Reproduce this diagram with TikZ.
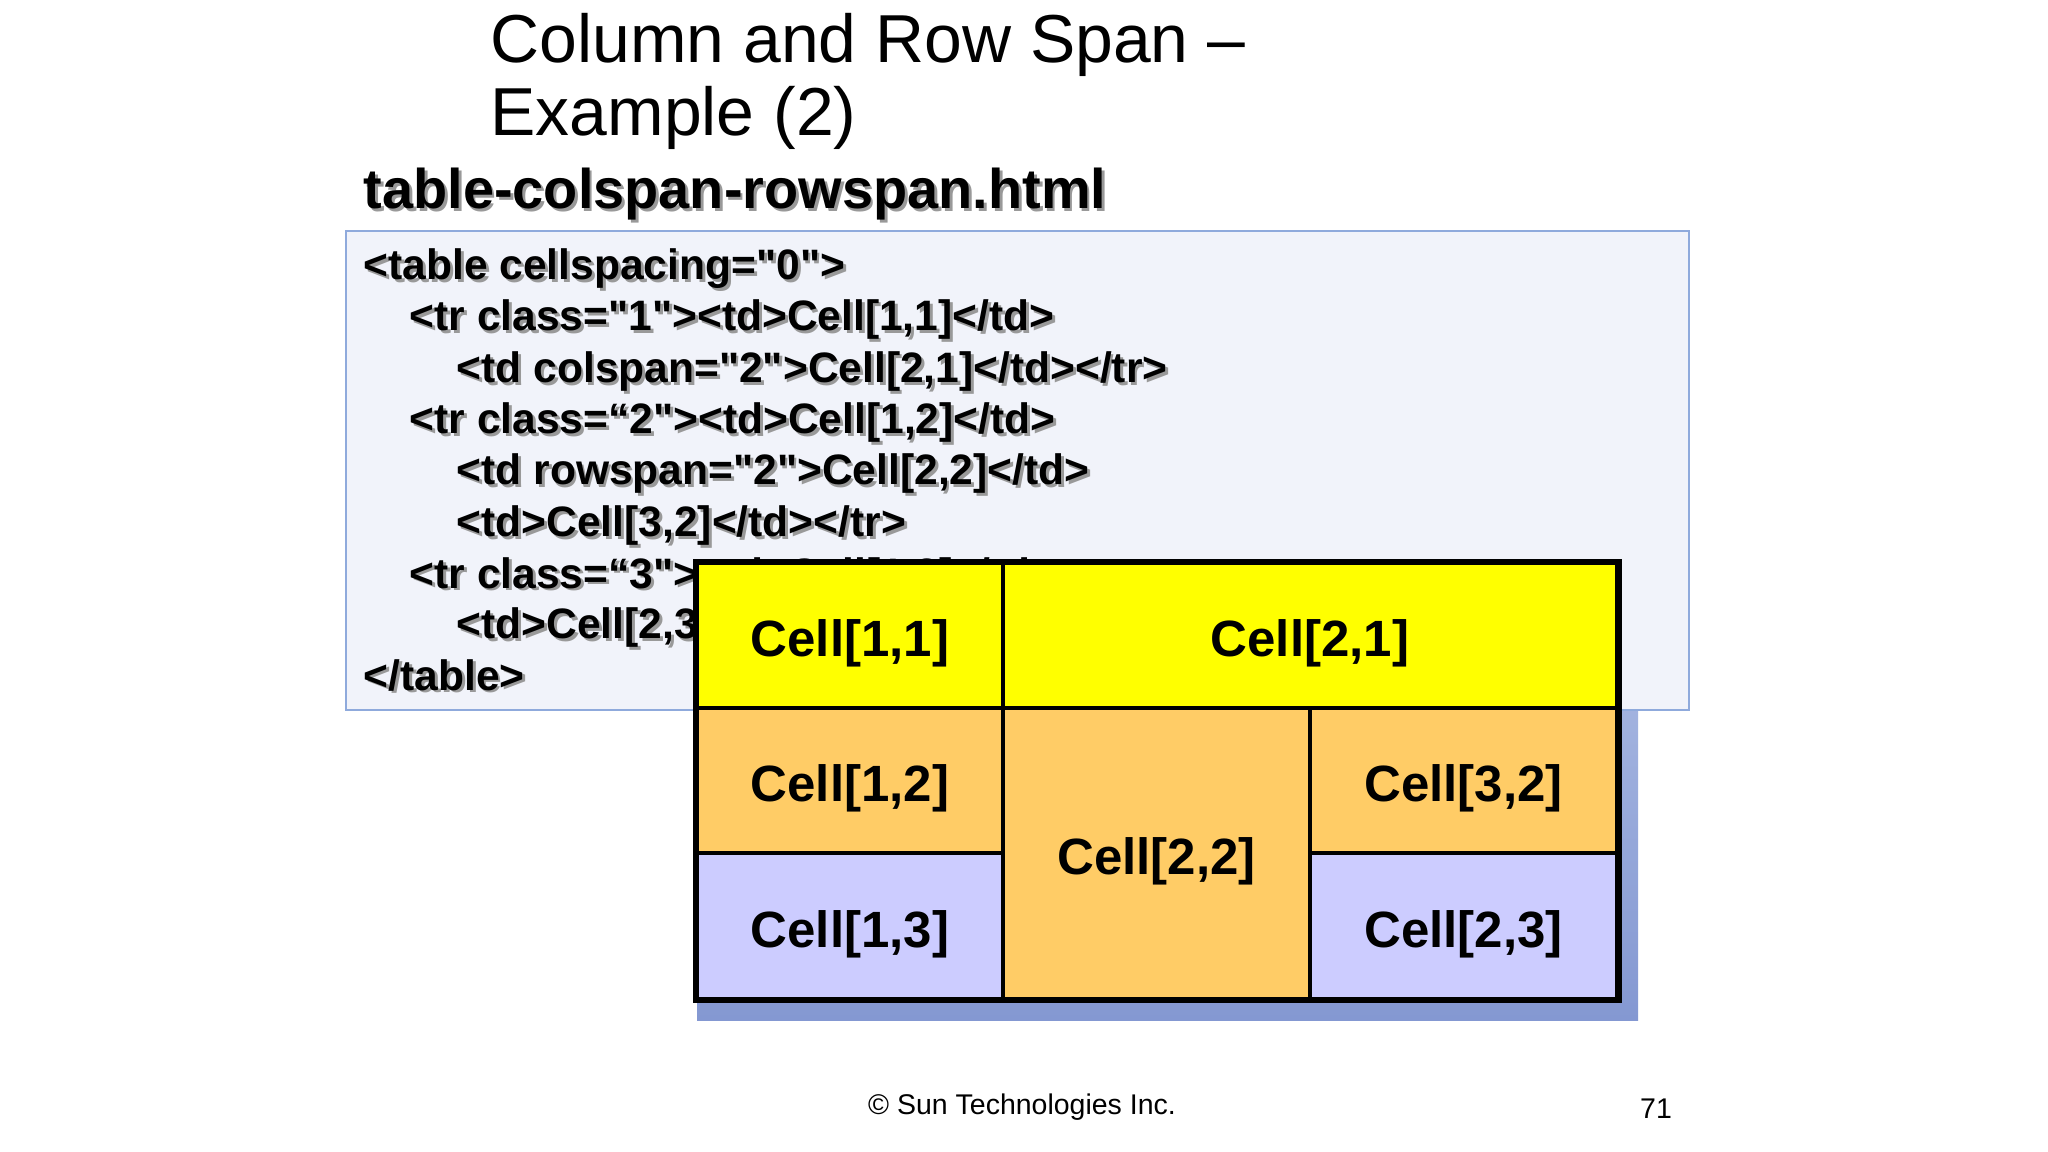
\documentclass[tikz,border=0pt]{standalone}
\usepackage{fontspec}
\setmainfont{Liberation Sans}[Ligatures=TeXOff]
\definecolor{boxfill}{HTML}{F1F3FA}
\definecolor{boxline}{HTML}{8FAADC}
\definecolor{cellyellow}{HTML}{FFFF00}
\definecolor{cellorange}{HTML}{FFCC66}
\definecolor{celllilac}{HTML}{CCCCFF}
\definecolor{shadowtop}{HTML}{AEBDE4}
\definecolor{shadowbot}{HTML}{8498D2}
\newcommand{\shtext}[1]{\rlap{\kern0.8pt\raisebox{-0.8pt}{\color{black!40}#1}}#1}
\tikzset{
  codeline/.style={anchor=base west,inner sep=0pt,font=\fontsize{12.1}{14}\selectfont\bfseries},
  cell/.style={draw=black,line width=1.1pt,inner sep=0pt,text height=12pt,text depth=0pt,font=\fontsize{14.5}{17}\selectfont\bfseries},
}
\begin{document}
\begin{tikzpicture}[x=0.01cm,y=-0.01cm]
\useasboundingbox [fill=white] (0,0) rectangle (2048,1152);
\node[anchor=base west,inner sep=0pt,font=\fontsize{19.3}{23}\selectfont] (title1) at (490,63) {Column and Row Span –};
\node[anchor=base west,inner sep=0pt,font=\fontsize{19.3}{23}\selectfont] (title2) at (490,136) {Example (2)};
\node[anchor=base west,inner sep=0pt,font=\fontsize{15.9}{19}\selectfont\bfseries] (file) at (363,209) {\shtext{table-colspan-rowspan.html}};
\shade [top color=shadowtop,bottom color=shadowbot] (697,584) rectangle (1638,1020);
\draw [boxline,fill=boxfill,line width=0.5pt] (346,231) rectangle (1689,710);
\node[codeline] (l1) at (363,280) {\shtext{<table cellspacing="0">}};
\node[codeline] (l2) at (409,331) {\shtext{<tr class="1"><td>Cell[1,1]</td>}};
\node[codeline] (l3) at (456,383) {\shtext{<td colspan="2">Cell[2,1]</td></tr>}};
\node[codeline] (l4) at (409,434) {\shtext{<tr class=“2"><td>Cell[1,2]</td>}};
\node[codeline] (l5) at (456,485) {\shtext{<td rowspan="2">Cell[2,2]</td>}};
\node[codeline] (l6) at (456,537) {\shtext{<td>Cell[3,2]</td></tr>}};
\node[codeline] (l7) at (409,588) {\shtext{<tr class=“3"><td>Cell[1,3]</td>}};
\node[codeline] (l8) at (456,639) {\shtext{<td>Cell[2,3]</td></tr>}};
\node[codeline] (l9) at (363,690) {\shtext{</table>}};
\node[cell,fill=cellyellow,minimum width=3.06cm,minimum height=1.45cm] (c11) at (850,635.5) {Cell[1,1]};
\node[cell,fill=cellyellow,minimum width=6.14cm,minimum height=1.45cm] (c21) at (1310,635.5) {Cell[2,1]};
\node[cell,fill=cellorange,minimum width=3.06cm,minimum height=1.45cm] (c12) at (850,780.5) {Cell[1,2]};
\node[cell,fill=cellorange,minimum width=3.07cm,minimum height=2.91cm] (c22) at (1156.5,853.5) {Cell[2,2]};
\node[cell,fill=cellorange,minimum width=3.07cm,minimum height=1.45cm] (c32) at (1463.5,780.5) {Cell[3,2]};
\node[cell,fill=celllilac,minimum width=3.06cm,minimum height=1.46cm] (c13) at (850,926) {Cell[1,3]};
\node[cell,fill=celllilac,minimum width=3.07cm,minimum height=1.46cm] (c23) at (1463.5,926) {Cell[2,3]};
\draw [line width=1.4pt] (c11.north west) rectangle (c23.south east);
\node[anchor=base,inner sep=0pt,font=\fontsize{8.1}{10}\selectfont] (copy) at (1022,1114) {© Sun Technologies Inc.};
\node[anchor=base,inner sep=0pt,font=\fontsize{8.1}{10}\selectfont] (page) at (1656,1118) {71};
\end{tikzpicture}
\end{document}
